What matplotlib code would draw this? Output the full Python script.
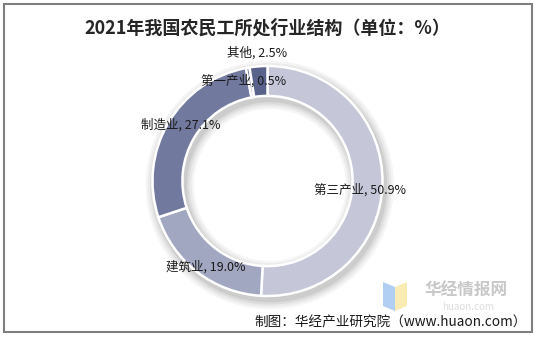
import matplotlib.pyplot as plt
from matplotlib.patches import Rectangle, Polygon

plt.rcParams['font.family'] = ['Noto Sans CJK SC', 'DejaVu Sans']

# 2021 年农民工从业结构
sectors = ['第三产业', '建筑业', '制造业', '第一产业', '其他']
shares = [50.9, 19.0, 27.1, 0.5, 2.5]
colors = ['#c5c7d8', '#a2a7c1', '#717a9e', '#6b7498', '#59628a']

W, H = 535, 338
fig = plt.figure(figsize=(W / 100, H / 100), dpi=100)

def fx(px):
    return px / W

def fy(py):
    return 1 - py / H

# 外框
fig.patches.append(Rectangle((fx(3.5), fy(331.5)), fx(528), (328) / H,
                             transform=fig.transFigure, fill=False,
                             edgecolor='#7f7f7f', linewidth=1.5))

fig.text(0.5, fy(28), '2021年我国农民工所处行业结构（单位：%）',
         ha='center', va='center', fontsize=13, fontweight='bold', color='#262626')

# 环形图
cx, cy, R = 267.5, 181, 115
ax = fig.add_axes([fx(cx - R), fy(cy + R), 2 * R / W, 2 * R / H])
ax.set_aspect('equal')

# 阴影
for k, a in enumerate([0.05, 0.06, 0.08, 0.10]):
    ax.pie([1], radius=1.0 + 0.02 * (4 - k), startangle=90,
           center=(0.02, -0.035), colors=['#404040'],
           wedgeprops=dict(width=0.26 + 0.04 * (4 - k), alpha=a, linewidth=0))

wedges, _ = ax.pie(shares, radius=1.0, startangle=90, counterclock=False,
                   colors=colors,
                   wedgeprops=dict(width=0.26, edgecolor='white', linewidth=1.8))
ax.set_xlim(-1.0, 1.0)
ax.set_ylim(-1.0, 1.0)
ax.axis('off')

# 标签位置（像素）
label_pos = [(360, 190), (206, 267), (181, 125), (244, 81), (257, 53)]
for name, val, (px, py) in zip(sectors, shares, label_pos):
    fig.text(fx(px), fy(py), f'{name}, {val:.1f}%', ha='center', va='center',
             fontsize=9, color='#1a1a1a')

# 水印
fig.patches.append(Polygon([(fx(383), fy(282)), (fx(395), fy(287)), (fx(395), fy(311)), (fx(383), fy(306))],
                           closed=True, transform=fig.transFigure,
                           facecolor='#9cc3f0', edgecolor='none', alpha=0.8))
fig.patches.append(Polygon([(fx(395), fy(287)), (fx(407), fy(282)), (fx(407), fy(306)), (fx(395), fy(311))],
                           closed=True, transform=fig.transFigure,
                           facecolor='#f7e7a0', edgecolor='none', alpha=0.8))
fig.text(fx(466), fy(291), '华经情报网', ha='center', va='center',
         fontsize=12, fontweight='bold', color='#c8c8c8')
fig.text(fx(468), fy(307.5), 'huaon.com', ha='center', va='center',
         fontsize=7, color='#dcdcdc')

fig.text(fx(527), fy(322), '制图：华经产业研究院（www.huaon.com）',
         ha='right', va='center', fontsize=9.8, color='#1a1a1a')

fig.savefig('out.png', dpi=100)
